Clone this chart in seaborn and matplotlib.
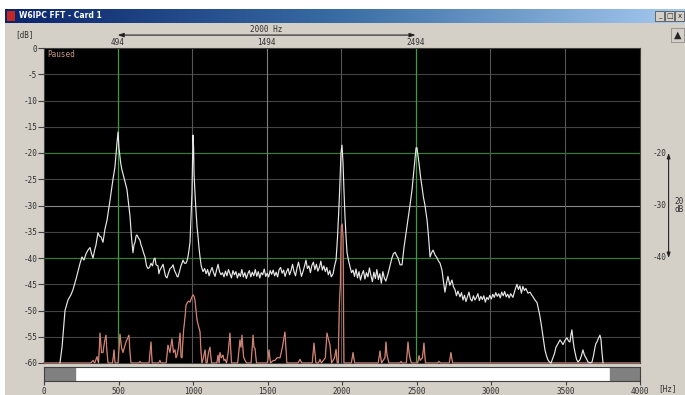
import numpy as np
import matplotlib.pyplot as plt
import seaborn as sns
from matplotlib.patches import Rectangle
from matplotlib.colors import LinearSegmentedColormap
from matplotlib.transforms import blended_transform_factory

sns.set_style("ticks")
plt.rcParams['font.family'] = ['DejaVu Sans Mono', 'DejaVu Sans']

# ---- spectrum data ----
# averaged spectrum (white trace)
white_hz = [107, 121, 141, 161, 181, 195, 215, 242, 255, 268, 282, 295, 309, 319, 329, 339,
            349, 362, 372, 383, 396, 409, 423, 443, 463, 476, 490, 497, 503, 515, 523, 535,
            544, 557, 567, 577, 587, 597, 604, 611, 618, 624, 634, 644, 651, 658, 668, 678,
            688, 698, 708, 718, 728, 738, 745, 752, 765, 771, 778, 788, 799, 808, 816, 825,
            836, 846, 856, 866, 876, 886, 893, 899, 909, 919, 926, 933, 943, 953, 960, 966,
            973, 980, 987, 993, 1000, 1004, 1007, 1014, 1020, 1027, 1034, 1040, 1047, 1055, 1067, 1078,
            1088, 1098, 1108, 1118, 1128, 1138, 1148, 1158, 1168, 1178, 1188, 1198, 1208, 1218, 1228, 1238,
            1248, 1258, 1268, 1278, 1288, 1298, 1308, 1318, 1328, 1338, 1348, 1358, 1368, 1378, 1388, 1398,
            1408, 1418, 1428, 1438, 1448, 1458, 1468, 1478, 1488, 1498, 1508, 1518, 1528, 1538, 1548, 1558,
            1568, 1578, 1588, 1598, 1608, 1618, 1628, 1638, 1648, 1658, 1668, 1678, 1688, 1698, 1708, 1718,
            1728, 1738, 1748, 1758, 1768, 1778, 1788, 1798, 1808, 1818, 1828, 1838, 1848, 1858, 1868, 1878,
            1888, 1898, 1908, 1918, 1928, 1940, 1950, 1960, 1970, 1980, 1987, 1993, 2000, 2007, 2013, 2020,
            2027, 2034, 2044, 2054, 2064, 2074, 2084, 2094, 2104, 2114, 2124, 2134, 2144, 2154, 2164, 2174,
            2184, 2194, 2204, 2214, 2224, 2234, 2244, 2254, 2264, 2274, 2284, 2294, 2309, 2322, 2335, 2345,
            2356, 2366, 2376, 2390, 2403, 2416, 2426, 2436, 2446, 2456, 2470, 2480, 2490, 2497, 2503, 2510,
            2517, 2527, 2537, 2547, 2557, 2571, 2581, 2591, 2601, 2611, 2624, 2638, 2648, 2658, 2671, 2681,
            2691, 2701, 2711, 2724, 2738, 2748, 2758, 2768, 2778, 2792, 2802, 2812, 2822, 2832, 2842, 2852,
            2862, 2872, 2882, 2892, 2902, 2912, 2922, 2932, 2942, 2952, 2962, 2972, 2982, 2992, 3002, 3012,
            3022, 3032, 3042, 3052, 3062, 3072, 3082, 3092, 3102, 3112, 3122, 3132, 3147, 3160, 3174, 3184,
            3194, 3204, 3214, 3224, 3234, 3248, 3262, 3272, 3282, 3295, 3309, 3319, 3329, 3339, 3349, 3362,
            3372, 3382, 3392, 3403, 3416, 3426, 3436, 3450, 3463, 3473, 3483, 3496, 3510, 3520, 3530, 3537,
            3543, 3550, 3557, 3564, 3574, 3584, 3597, 3607, 3617, 3627, 3637, 3651, 3665, 3678, 3688, 3698,
            3704, 3711, 3721, 3731, 3738, 3745, 3752]
white_db = [-60, -57, -50, -48, -47, -46, -44, -41, -39.8, -40.4, -39.2, -38.5, -38, -39.2, -40, -38.6,
            -37.5, -35.2, -35.8, -36, -37, -34.5, -32.8, -29, -25, -22.7, -18, -16, -19, -22, -23.2, -24.5,
            -25.5, -27, -29.5, -32, -36, -39, -37.5, -37, -35.8, -35.6, -36.2, -36.6, -37.5, -38, -39, -39.8,
            -41.5, -42, -41.8, -41, -41.5, -40.2, -40, -41.3, -41.5, -43, -42.3, -41.8, -41.2, -42.5, -43.5, -43.8,
            -42.8, -42, -41.8, -41.3, -42.4, -43, -43.5, -43.6, -42.6, -41.5, -41, -40.4, -41, -41, -40.5, -39.8,
            -38.5, -37, -32, -27.6, -16.6, -19, -24, -28, -31, -34, -36, -38, -39.8, -41.5, -42.6, -42,
            -43, -42.2, -43.4, -42.5, -41.8, -42.8, -43.5, -42.3, -41.2, -42.6, -43.2, -42.8, -43.6, -42.5, -43.4, -42.2,
            -43, -43.8, -42.4, -43.2, -42.6, -43.8, -42.9, -43.5, -42.2, -43.6, -42.8, -43.9, -43, -42.4, -43.6, -42.7,
            -43.4, -42.2, -43.5, -42.6, -43.8, -42.8, -43.2, -42.1, -43.5, -42.9, -43.6, -42.4, -43.1, -42.3, -43.4, -42.7,
            -43.6, -42.2, -41.8, -42.9, -42.3, -43.5, -42.6, -42, -43.2, -42.4, -41.2, -42.6, -43.4, -41.9, -40.8, -42.2,
            -43.5, -42.6, -41.6, -40.4, -42, -41.5, -42.8, -41.4, -40.8, -42.2, -41.2, -42.5, -41.8, -40.6, -42.3, -41.5,
            -42.6, -41.8, -43.2, -42.4, -43.6, -43, -41.5, -40.4, -36, -30, -25, -20, -18.5, -22, -27, -32,
            -36, -39, -40.5, -41.7, -42.8, -42.3, -43.5, -42.1, -43.8, -42.6, -44.2, -43.1, -42.4, -44, -42.8, -43.6,
            -41.9, -43.3, -44.5, -42.7, -43.9, -42.2, -44.1, -43, -44.8, -42.6, -43.8, -44.4, -43, -41.5, -40, -39.2,
            -38.9, -39.5, -40, -41.3, -41.3, -38, -36, -34, -32, -30, -27, -24, -21, -19, -19, -20.5,
            -22, -24.5, -26.5, -28.5, -30, -32.8, -36, -39.8, -39, -38.5, -39.4, -40, -40.6, -41, -42.3, -44.5,
            -46.5, -44.8, -43.5, -45.2, -44.2, -45.5, -46, -47.2, -46.3, -47.4, -46.6, -48, -47.1, -48.3, -47.4, -46.5,
            -47.8, -48.2, -47.2, -48, -47.5, -46.8, -48.1, -47.3, -47.9, -47.2, -48.4, -47.5, -47.9, -47.1, -47.8, -46.9,
            -47.5, -46.6, -47.3, -46.8, -47.6, -46.5, -47.2, -46.4, -47.4, -46.9, -47.6, -46.8, -47.5, -46.2, -45, -46,
            -45.3, -46.7, -45.4, -46.2, -45.8, -46.7, -46.5, -47, -47.4, -48, -48.5, -49.8, -51.2, -53, -55, -57.5,
            -58.6, -59.4, -59.8, -60, -59, -58.2, -57, -56.3, -55.6, -56, -56.5, -55.7, -55.2, -55.8, -56, -54.5,
            -53.7, -55.5, -57, -58, -59.3, -59.8, -59.4, -58.6, -57.5, -58.5, -59, -59.8, -60, -59.8, -58.6, -57,
            -56.3, -56, -55.3, -54.7, -55.5, -58, -60]

# instantaneous spectrum (salmon trace)
pink_hz = [0, 315, 329, 340, 356, 366, 376, 386, 396, 406, 416, 423, 430, 460, 470, 477,
           497, 510, 520, 530, 550, 570, 577, 584, 635, 644, 652, 705, 718, 726, 770, 778,
           786, 820, 832, 845, 859, 869, 879, 886, 893, 903, 913, 920, 926, 936, 946, 953,
           960, 970, 980, 990, 1000, 1007, 1013, 1020, 1027, 1037, 1047, 1054, 1060, 1070, 1081, 1088,
           1094, 1104, 1114, 1124, 1160, 1168, 1175, 1181, 1190, 1201, 1208, 1215, 1225, 1236, 1248, 1258,
           1300, 1315, 1322, 1329, 1339, 1349, 1360, 1390, 1403, 1409, 1416, 1426, 1500, 1510, 1520, 1540,
           1550, 1565, 1584, 1600, 1617, 1630, 1705, 1718, 1730, 1800, 1812, 1825, 1842, 1852, 1862, 1888,
           1899, 1909, 1919, 1930, 1950, 1960, 1968, 1975, 1982, 1989, 1995, 2001, 2007, 2013, 2063, 2074,
           2085, 2243, 2255, 2265, 2288, 2295, 2302, 2315, 2388, 2396, 2404, 2432, 2443, 2450, 2456, 2465,
           2508, 2517, 2525, 2540, 2550, 2560, 2641, 2651, 2661, 2720, 2731, 2742, 4000]
pink_db = [-60, -60, -59.5, -60, -58.8, -60, -54.3, -58, -58, -56, -54.7, -58, -60, -60, -57.5, -60,
           -60, -54.5, -57, -58, -56, -54.7, -58, -60, -60, -59.7, -60, -60, -56, -60, -60, -59.5,
           -60, -60, -56.6, -58, -55.4, -58, -57.5, -59, -58.5, -57, -54.3, -58.8, -59, -54, -51.4, -49,
           -48.6, -48.2, -48.4, -47.6, -47, -47.3, -48, -50, -51.8, -53, -54, -58, -60, -59, -57.5, -60,
           -60, -58, -57, -60, -60, -58.5, -60, -58, -59, -58.5, -59.5, -59.3, -60, -58, -54.3, -60,
           -60, -55.6, -57, -54.7, -58.8, -59.5, -60, -60, -54.7, -57, -57.2, -60, -60, -57.5, -60, -59.5,
           -59.5, -59, -59, -57, -54.1, -60, -60, -59.3, -60, -60, -56.2, -60, -60, -59.3, -60, -59,
           -54.3, -55.5, -56.5, -60, -59, -57.4, -60, -60, -49, -45, -34, -33.5, -36, -60, -60, -58,
           -60, -60, -57.7, -60, -59, -56, -58.5, -60, -60, -59.7, -60, -60, -56, -58, -59, -60,
           -60, -58.6, -59.5, -59, -56.2, -60, -60, -59.7, -60, -60, -58, -60, -60]

# axis scales and cursor markers
db_ticks = [0, -5, -10, -15, -20, -25, -30, -35, -40, -45, -50, -55, -60]
hz_ticks = [0, 500, 1000, 1500, 2000, 2500, 3000, 3500, 4000]
cursor_hz = [494, 2494]
cursor_labels = ["494", "1494", "2494"]
ref_db = [-20, -30, -40]

W, H = 685, 395
GRAY = "#d4d0c8"
INK = "#303030"


def px_box(x0, y0, x1, y1):
    return [x0 / W, 1 - y1 / H, (x1 - x0) / W, (y1 - y0) / H]


fig = plt.figure(figsize=(6.85, 3.95), dpi=100, facecolor=GRAY)

# window frame: white margin at top and left
fig.patches.append(Rectangle((0, 1 - 9 / H), 1, 9 / H, transform=fig.transFigure,
                             facecolor="white", edgecolor="none", zorder=-5))
fig.patches.append(Rectangle((0, 0), 5 / W, 1, transform=fig.transFigure,
                             facecolor="white", edgecolor="none", zorder=-5))
tb = fig.add_axes(px_box(5, 9, 685, 23))
cm = LinearSegmentedColormap.from_list("tb", ["#0a246a", "#3a6ea5", "#a6caf0"])
tb.imshow(np.linspace(0, 1, 256)[None, :], aspect="auto", cmap=cm, extent=[0, 1, 0, 1])
tb.axis("off")
fig.patches.append(Rectangle((7 / W, 1 - 21 / H), 8 / W, 10 / H, transform=fig.transFigure,
                             facecolor="#c02828", edgecolor="none", zorder=5))
fig.text(19 / W, 1 - 16 / H, "W6IPC FFT - Card 1", color="white", fontsize=5.5,
         fontweight="bold", family="DejaVu Sans", va="center", zorder=6)
for i, s in enumerate(["_", "□", "x"]):
    x0 = 655 + i * 10
    fig.patches.append(Rectangle((x0 / W, 1 - 21 / H), 9 / W, 10 / H, transform=fig.transFigure,
                                 facecolor=GRAY, edgecolor="#404040", lw=0.5, zorder=5))
    fig.text((x0 + 4.5) / W, 1 - 16 / H, s, fontsize=5, ha="center", va="center",
             family="DejaVu Sans", zorder=6)
fig.patches.append(Rectangle((671 / W, 1 - 42 / H), 13 / W, 14 / H, transform=fig.transFigure,
                             facecolor=GRAY, edgecolor="#808080", lw=0.5, zorder=5))
fig.text(677.5 / W, 1 - 35 / H, "▲", fontsize=7, ha="center", va="center",
         family="DejaVu Sans", zorder=6)

# main spectrum panel
ax = fig.add_axes(px_box(44, 48, 640, 363))
ax.set_facecolor("black")
ax.set_xlim(0, 4000)
ax.set_ylim(-60, 0)

for d in db_ticks[1:-1]:
    if d in (-20, -40):
        ax.axhline(d, color="#357a35", lw=0.9, zorder=1)
    elif d == -30:
        ax.axhline(d, color="#8a8a8a", lw=0.8, zorder=1)
    else:
        ax.axhline(d, color="#444444", lw=0.8, zorder=1)
for f in [994, 1494, 1994, 2994, 3494]:
    ax.axvline(f, color="#808080" if f == 1494 else "#555555", lw=0.8, zorder=1)
for f in cursor_hz:
    ax.axvline(f, color="#3c9c44", lw=0.9, zorder=1)

sns.lineplot(x=pink_hz, y=pink_db, ax=ax, color="#7a3a32", linewidth=1.1,
             estimator=None, sort=False, zorder=2)
sns.lineplot(x=pink_hz, y=pink_db, ax=ax, color="#e4a494", linewidth=0.5,
             estimator=None, sort=False, zorder=3)
sns.lineplot(x=white_hz, y=white_db, ax=ax, color="#e8e8e8", linewidth=0.85,
             estimator=None, sort=False, zorder=4)
for ln in ax.lines:
    ln.set_clip_on(False)

ax.set_xticks([])
ax.set_yticks(db_ticks)
ax.set_yticklabels([str(d) for d in db_ticks])
ax.tick_params(axis="y", length=4, width=0.8, color="#404040", labelsize=5.5,
               labelcolor=INK, pad=1)
ax.set_xlabel("")
ax.set_ylabel("")
for sp in ax.spines.values():
    sp.set_color("#404040")
    sp.set_linewidth(0.8)

ax.text(0.006, 0.993, "Paused", transform=ax.transAxes, va="top", ha="left",
        color="#c89a80", fontsize=5.5)

# top cursor annotation
top = blended_transform_factory(ax.transData, ax.transAxes)
ax.annotate("", xy=(cursor_hz[0], 1.041), xytext=(cursor_hz[1], 1.041), xycoords=top,
            textcoords=top, annotation_clip=False,
            arrowprops=dict(arrowstyle="<|-|>,head_length=0.35,head_width=0.12",
                            color="#202020", lw=0.8, shrinkA=0, shrinkB=0))
ax.text((cursor_hz[0] + cursor_hz[1]) / 2, 1.058, f"{cursor_hz[1] - cursor_hz[0]} Hz",
        transform=top, ha="center", va="center", fontsize=5.5, color=INK)
for f, lab in zip([cursor_hz[0], (cursor_hz[0] + cursor_hz[1]) / 2, cursor_hz[1]], cursor_labels):
    ax.text(f, 1.019, lab, transform=top, ha="center", va="center", fontsize=5.5, color=INK)
fig.text(24 / W, 1 - 35 / H, "[dB]", ha="center", va="center", fontsize=5.5, color=INK)

# right reference scale
right = blended_transform_factory(ax.transAxes, ax.transData)
for d in ref_db:
    ax.text(1.022, d, str(d), transform=right, ha="left", va="center", fontsize=5.5, color=INK)
ax.annotate("", xy=(1.048, ref_db[0]), xytext=(1.048, ref_db[-1]), xycoords=right,
            textcoords=right, annotation_clip=False,
            arrowprops=dict(arrowstyle="<|-|>,head_length=0.3,head_width=0.1",
                            color="#202020", lw=0.8, shrinkA=0, shrinkB=0))
ax.text(1.058, ref_db[1], f"{ref_db[0] - ref_db[-1]}\ndB", transform=right, ha="left",
        va="center", fontsize=5.5, color=INK, linespacing=0.9)

# scrollbar with frequency scale
sb = fig.add_axes(px_box(44, 367, 640, 381))
sb.set_xlim(0, 4000)
sb.set_ylim(0, 1)
sb.set_facecolor("white")
sb.axvspan(0, 208, color="#808080")
sb.axvspan(3800, 4000, color="#808080")
sb.set_yticks([])
sb.set_xticks(hz_ticks)
sb.set_xticklabels([str(f) for f in hz_ticks])
sb.tick_params(axis="x", length=3, width=0.8, color="#404040", labelsize=5.5,
               labelcolor=INK, pad=1.5)
for sp in sb.spines.values():
    sp.set_color("#404040")
    sp.set_linewidth(0.8)
fig.text(668 / W, 1 - 389 / H, "[Hz]", ha="center", va="center", fontsize=5.5, color=INK)

fig.savefig("out.png", dpi=100, facecolor=fig.get_facecolor())
